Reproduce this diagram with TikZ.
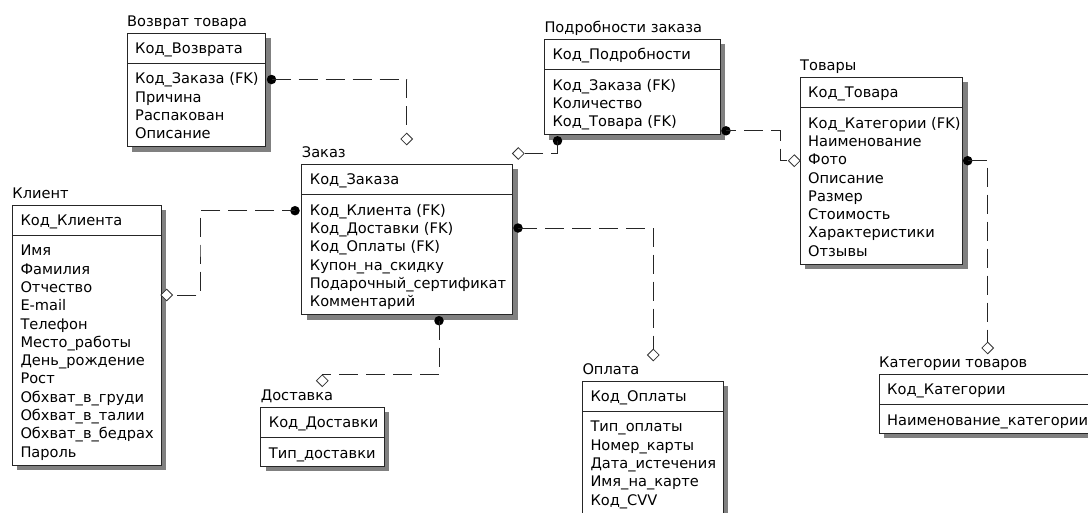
\documentclass[tikz,border=0pt]{standalone}
\usepackage{fontspec}
\setmainfont{DejaVu Sans}
\usetikzlibrary{shapes.geometric,shadows}
\tikzset{
  ttl/.style={font=\fontsize{14.6}{16}\selectfont, inner sep=0pt, anchor=base west, text=black},
  attr/.style={font=\fontsize{14.6}{16}\selectfont, inner sep=0pt, anchor=base west, text=black},
  entbox/.style={draw=black!85, line width=1pt, fill=white, inner sep=0pt, outer sep=0pt, anchor=north west,
    general shadow={fill=black!50, shadow xshift=5pt, shadow yshift=-5pt}},
  hdrline/.style={draw=black!85, line width=1pt},
  fkdot/.style={circle, fill=black, inner sep=0pt, minimum size=9.5pt},
  fkdiam/.style={diamond, draw=black!80, fill=white, line width=0.8pt, inner sep=0pt, minimum width=12pt, minimum height=12pt},
  rel/.style={draw=black!85, line width=1pt, dash pattern=on 19pt off 8pt},
}
% #1 name, #2 left, #3 top, #4 width, #5 number of attributes, #6 title, #7 key, #8 attributes
\newcommand\erent[8]{%
  \node[ttl] (#1-title) at (#2, {#3-6.5}) {#6};
  \node[entbox, minimum width=#4pt, minimum height={(59+18.3*(#5-1))*1pt}] (#1) at (#2,#3) {};
  \draw[hdrline] ([yshift=-30pt]#1.north west) -- ([yshift=-30pt]#1.north east);
  \node[attr] (#1-pk) at ({#2+8},{#3+15.5+4.8}) {#7};
  \foreach \a [count=\i] in {#8} {\node[attr] (#1-a\i) at ({#2+8},{#3+46+18.3*(\i-1)+4.8}) {\a};}
}
\begin{document}
\begin{tikzpicture}[x=1pt,y=-1pt]
\useasboundingbox (0,0) rectangle (1088,512);
\clip (0,0) rectangle (1088,512);
\fill[white] (0,0) rectangle (1088,512);

\erent{vozvrat}{127}{33}{138.6}{4}{Возврат товара}{Код\_Возврата}{Код\_Заказа (FK),Причина,Распакован,Описание}
\erent{klient}{12.3}{205}{149}{12}{Клиент}{Код\_Клиента}{Имя,Фамилия,Отчество,E-mail,Телефон,Место\_работы,День\_рождение,Рост,Обхват\_в\_груди,Обхват\_в\_талии,Обхват\_в\_бедрах,Пароль}
\erent{zakaz}{301.7}{164.3}{211}{6}{Заказ}{Код\_Заказа}{Код\_Клиента (FK),Код\_Доставки (FK),Код\_Оплаты (FK),Купон\_на\_скидку,Подарочный\_сертификат,Комментарий}
\erent{podrob}{544.3}{39.3}{176}{3}{Подробности заказа}{Код\_Подробности}{Код\_Заказа (FK),Количество,Код\_Товара (FK)}
\erent{tovary}{800}{77.3}{162.7}{8}{Товары}{Код\_Товара}{Код\_Категории (FK),Наименование,Фото,Описание,Размер,Стоимость,Характеристики,Отзывы}
\erent{dostavka}{260.7}{407.3}{123.6}{1}{Доставка}{Код\_Доставки}{Тип\_доставки}
\erent{oplata}{582.3}{381}{141}{5}{Оплата}{Код\_Оплаты}{Тип\_оплаты,Номер\_карты,Дата\_истечения,Имя\_на\_карте,Код\_CVV}
\erent{kategorii}{879}{374.3}{215}{1}{Категории товаров}{Код\_Категории}{Наименование\_категории}

% relationship ends
\node[fkdot] (dot1) at (271.5,79.5) {};
\node[fkdiam] (dm1) at (406.7,139) {};
\node[fkdot] (dot2) at (557.5,140.8) {};
\node[fkdiam] (dm2) at (518.3,153.5) {};
\node[fkdot] (dot3) at (726,130.8) {};
\node[fkdiam] (dm3) at (794.3,160.7) {};
\coordinate (b3) at (780.3,145);
\node[fkdot] (dot4) at (967.7,160.7) {};
\node[fkdiam] (dm4) at (987.7,348) {};
\node[fkdot] (dot5) at (295,210.7) {};
\node[fkdiam] (dm5) at (166.7,295) {};
\coordinate (b5) at (200,250);
\node[fkdot] (dot6) at (439,320.7) {};
\node[fkdiam] (dm6) at (322.3,380.7) {};
\node[fkdot] (dot7) at (518,228) {};
\node[fkdiam] (dm7) at (653.3,355) {};

\draw[rel] (dot1.center) -| (dm1.north);
\draw[rel] (dot2.center) |- (dm2.east);
\draw[rel, dash phase=9pt] (dot3.center) -| (b3) |- (dm3.west);
\draw[rel] (dot4.center) -| (dm4.north);
\draw[rel, dash phase=6pt] (dot5.center) -| (b5) |- (dm5.east);
\draw[rel] (dot6.center) |- (dm6.north);
\draw[rel] (dot7.center) -| (dm7.north);
\end{tikzpicture}
\end{document}
